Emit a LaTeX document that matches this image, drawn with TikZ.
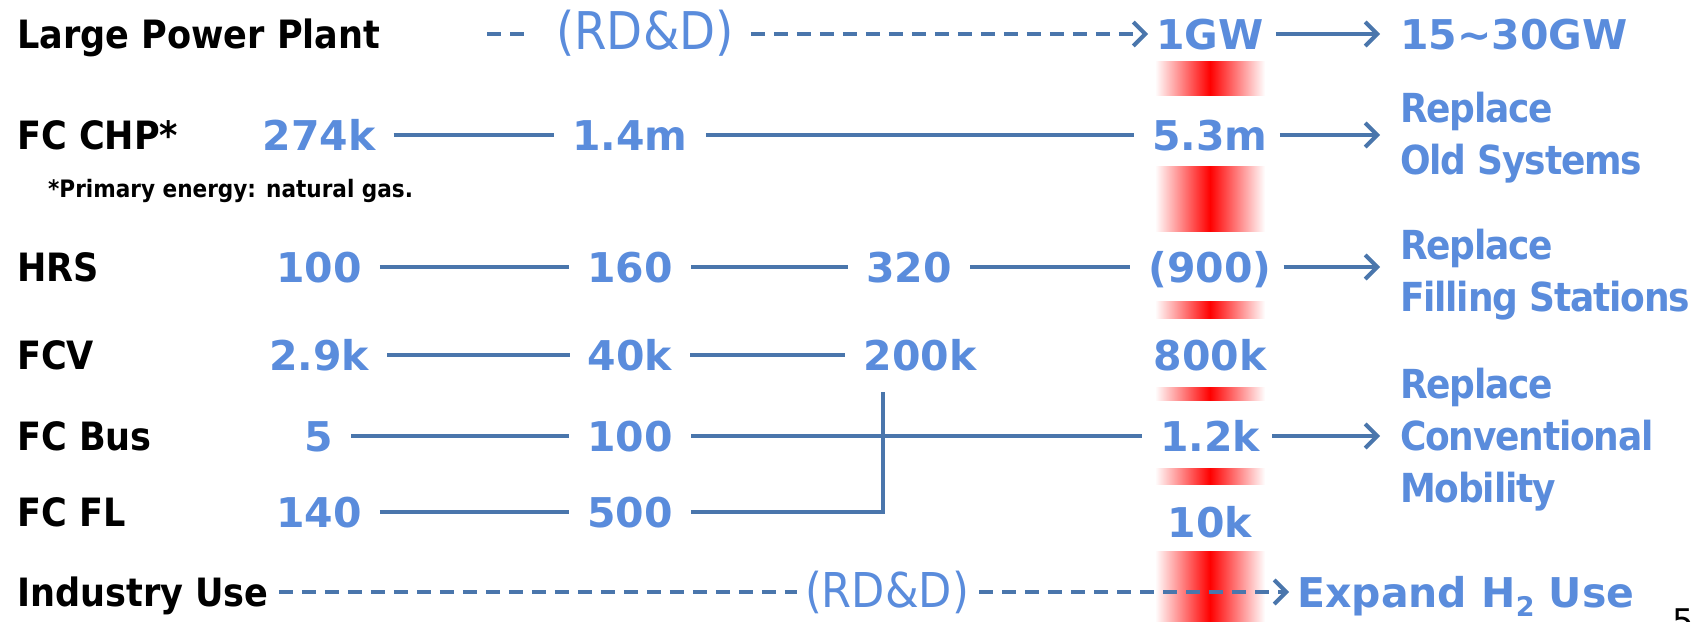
\documentclass[tikz,border=0pt]{standalone}
\usepackage{fontspec}
\setmainfont{DejaVu Sans}
\newfontfamily\labfont{DejaVuSansCondensed-Bold}[Extension=.ttf]
\newfontfamily\goalfont{DejaVuSansCondensed-Bold}[Extension=.ttf, LetterSpace=-3]
\newfontfamily\condfont{DejaVuSansCondensed}[Extension=.ttf]
\usetikzlibrary{arrows.meta}
\definecolor{numblue}{HTML}{5A8CDC}
\definecolor{lineblue}{HTML}{4A76AC}

\begin{document}
\begin{tikzpicture}[
        x=1pt, y=-1pt,
        lab/.style={anchor=west, inner sep=0pt, text height=29pt, text depth=0pt,
            font=\labfont\fontsize{39}{39}\selectfont},
        num/.style={inner sep=0pt, text height=30pt, text depth=0pt, text=numblue,
            font=\bfseries\fontsize{41}{41}\selectfont},
        goal/.style={anchor=west, align=left, inner sep=0pt, text=numblue,
            font=\goalfont\fontsize{40}{52}\selectfont},
        rdd/.style={inner sep=0pt, text height=30pt, text depth=0pt, text=numblue,
            font=\condfont\fontsize{48}{48}\selectfont},
        link/.style={draw=lineblue, line width=4pt, shorten <=18pt, shorten >=18pt},
        dlink/.style={link, dash pattern=on 14pt off 9pt, shorten <=10pt, shorten >=8pt},
        tip/.style={-{Straight Barb[length=12pt, width=24pt]}},
        redbar/.style={left color=white, right color=white, middle color=red},
    ]
    \useasboundingbox (0,0) rectangle (1691,621);
    % red band behind the last column
    \foreach \ya/\yb in {61/95, 166/231, 301/318, 387/400, 468/484, 551/621}
        \shade[redbar] (1155,\ya) rectangle (1265,\yb);

    % row labels
    \foreach \pos/\name/\txt in {
            {(17,34)/lpp/Large Power Plant}, {(17,135)/chp/FC CHP*}, {(17,267)/hrs/HRS},
            {(17,355)/fcv/FCV}, {(17,436)/bus/FC Bus}, {(17,512)/fl/FC FL},
            {(17,592)/ind/Industry Use}}
        \node[lab] (\name) at \pos {\txt};
    \node[anchor=west, inner sep=0pt, font=\labfont\fontsize{24}{24}\selectfont]
        (note) at (48,191) {*Primary energy: natural gas.};

    % figures
    \foreach \pos/\name/\txt in {
            {(1210,34)/gw/1GW},
            {(319,135)/chpa/274k}, {(630,135)/chpb/1.4m}, {(1210,135)/chpc/5.3m},
            {(319,267)/hrsa/100}, {(630,267)/hrsb/160}, {(909,267)/hrsc/320}, {(1210,267)/hrsd/{(900)}},
            {(319,355)/fcva/2.9k}, {(630,355)/fcvb/40k}, {(920,355)/fcvc/200k}, {(1210,355)/fcvd/800k},
            {(319,436)/busa/5}, {(630,436)/busb/100}, {(1210,436)/busc/1.2k},
            {(319,512)/fla/140}, {(630,512)/flb/500}, {(1210,522)/fld/10k}}
        \node[num] (\name) at \pos {\txt};
    \node[num, anchor=west] (gwmax) at (1400,34) {15∼30GW};
    \node[num, anchor=west] (exp) at (1297,592)
        {Expand H\raisebox{-9pt}{\fontsize{27}{27}\selectfont 2} Use};
    \node[rdd, font=\condfont\fontsize{52}{52}\selectfont] (rdtop) at (645,34) {(RD\&D)};
    \node[rdd] (rdbot) at (887,592) {(RD\&D)};

    % targets
    \node[goal] (rpold) at (1400,138) {Replace\\Old Systems};
    \node[goal] (rpfill) at (1400,275) {Replace\\Filling Stations};
    \node[goal] (rpmob) at (1400,440) {Replace\\Conventional\\Mobility};

    % connectors
    \foreach \source/\dest in {
            chpa/chpb, chpb/chpc, hrsa/hrsb, hrsb/hrsc, hrsc/hrsd,
            fcva/fcvb, fcvb/fcvc, busa/busb, busb/busc, fla/flb}
        \path[link] (\source) edge (\dest);
    \foreach \source/\dest in {gw/gwmax, chpc/rpold, hrsd/rpfill, busc/rpmob}
        \draw[link, tip, shorten <=12pt, shorten >=20pt] (\source) -- (\source -| \dest.west);
    \coordinate (join) at (883,392);
    \draw[link, shorten >=0pt] (flb) -| (join);

    \coordinate (rdstart) at (487,34);
    \draw[dlink, shorten <=0pt, shorten >=26pt] (rdstart) -- (rdtop);
    \draw[dlink, tip, shorten <=17pt] (rdtop) -- (gw);
    \draw[dlink] (ind) -- (rdbot);
    \draw[dlink, tip] (rdbot) -- (rdbot -| exp.west);

    \node[anchor=north west, inner sep=0pt, font=\fontsize{34}{34}\selectfont]
        (pgno) at (1672,609) {5};
\end{tikzpicture}
\end{document}
